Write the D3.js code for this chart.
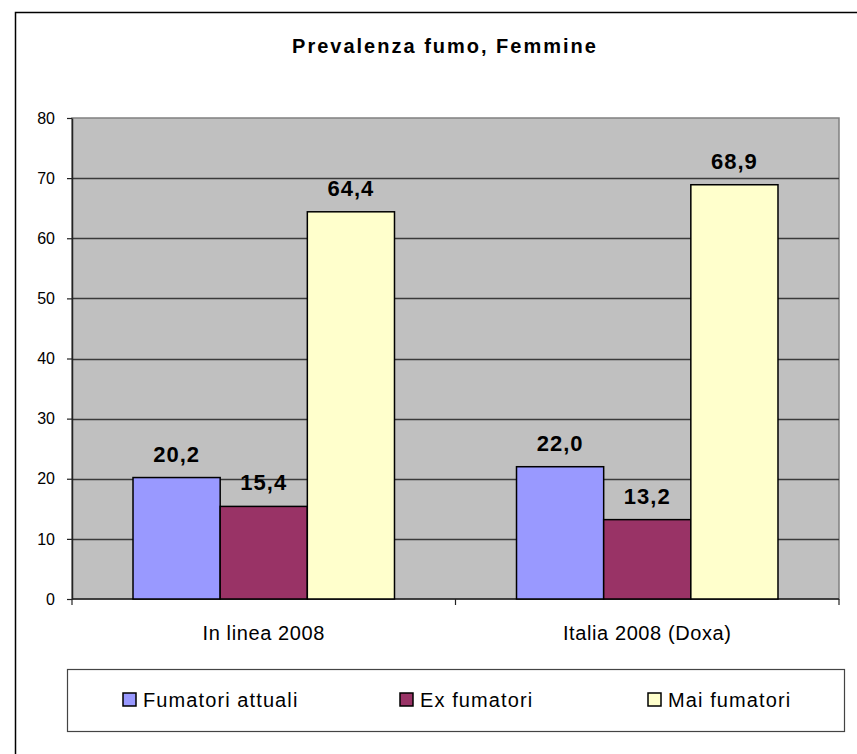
<!DOCTYPE html>
<html>
<head>
<meta charset="utf-8">
<script src="https://cdn.jsdelivr.net/npm/d3@7"></script>
<style>
  body { margin: 0; background: #fff; }
  svg { display: block; font-family: "Liberation Sans", Arial, sans-serif; }
</style>
</head>
<body>
<svg width="857" height="754"></svg>
<script>
// data
const categories = ["In linea 2008", "Italia 2008 (Doxa)"];
const seriesNames = ["Fumatori attuali", "Ex fumatori", "Mai fumatori"];
const fumatoriAttuali = [20.2, 22.0];
const exFumatori = [15.4, 13.2];
const maiFumatori = [64.4, 68.9];
const yTicks = [0, 10, 20, 30, 40, 50, 60, 70, 80];
const colors = ["#9999FF", "#993366", "#FFFFCC"];

const seriesValues = [fumatoriAttuali, exFumatori, maiFumatori];
const rows = categories.map((c, i) => ({
  category: c,
  values: seriesNames.map((s, j) => ({ series: s, value: seriesValues[j][i] }))
}));

const svg = d3.select("svg");

// outer chart border (runs off the right / bottom edge)
svg.append("rect")
  .attr("x", 15.5).attr("y", 12.5)
  .attr("width", 860).attr("height", 760)
  .attr("fill", "#fff")
  .attr("stroke", "#000")
  .attr("stroke-width", 1.5);

const plot = { left: 72, right: 839, top: 118, bottom: 599 };

const x0 = d3.scaleBand()
  .domain(categories)
  .range([plot.left, plot.right]);

const x1 = d3.scaleBand()
  .domain(seriesNames)
  .range([0, x0.bandwidth()])
  .paddingInner(0)
  .paddingOuter(0.7);

const y = d3.scaleLinear()
  .domain([0, 80])
  .range([plot.bottom, plot.top]);

// plot background
svg.append("rect")
  .attr("x", plot.left).attr("y", plot.top)
  .attr("width", plot.right - plot.left).attr("height", plot.bottom - plot.top)
  .attr("fill", "#C0C0C0")
  .attr("stroke", "#808080")
  .attr("stroke-width", 1.5);

// gridlines
svg.append("g")
  .selectAll("line")
  .data(yTicks.filter(t => t > 0 && t < 80))
  .join("line")
  .attr("x1", plot.left).attr("x2", plot.right)
  .attr("y1", d => Math.round(y(d)) + 0.5).attr("y2", d => Math.round(y(d)) + 0.5)
  .attr("stroke", "#3a3a3a")
  .attr("stroke-width", 1.3);

// title
svg.append("text")
  .attr("x", 445).attr("y", 53)
  .attr("text-anchor", "middle")
  .attr("font-size", 20)
  .attr("font-weight", "bold")
  .attr("letter-spacing", 2)
  .text("Prevalenza fumo, Femmine");

// y axis
const yAxis = svg.append("g")
  .attr("transform", `translate(${plot.left},0)`)
  .call(d3.axisLeft(y).tickValues(yTicks).tickSize(5).tickPadding(12).tickSizeOuter(0));
yAxis.select(".domain").attr("stroke", "#222").attr("stroke-width", 1.5);
yAxis.selectAll(".tick line").attr("stroke", "#222").attr("stroke-width", 1.2);
yAxis.selectAll(".tick text")
  .attr("font-size", 16)
  .attr("font-family", "Liberation Sans, Arial, sans-serif")
  .attr("fill", "#000");

// x axis baseline and category ticks
svg.append("line")
  .attr("x1", plot.left).attr("x2", plot.right)
  .attr("y1", plot.bottom).attr("y2", plot.bottom)
  .attr("stroke", "#222").attr("stroke-width", 1.5);

const boundaries = [plot.left].concat(categories.map(c => x0(c) + x0.bandwidth()));
svg.append("g")
  .selectAll("line")
  .data(boundaries)
  .join("line")
  .attr("x1", d => d).attr("x2", d => d)
  .attr("y1", plot.bottom).attr("y2", plot.bottom + 6)
  .attr("stroke", "#222").attr("stroke-width", 1.2);

svg.append("g")
  .selectAll("text")
  .data(categories)
  .join("text")
  .attr("x", d => x0(d) + x0.bandwidth() / 2)
  .attr("y", 640)
  .attr("text-anchor", "middle")
  .attr("font-size", 20)
  .attr("letter-spacing", 0.6)
  .text(d => d);

// bars
const groups = svg.append("g")
  .selectAll("g")
  .data(rows)
  .join("g")
  .attr("transform", d => `translate(${x0(d.category)},0)`);

groups.selectAll("rect")
  .data(d => d.values)
  .join("rect")
  .attr("x", d => x1(d.series))
  .attr("y", d => y(d.value))
  .attr("width", x1.bandwidth())
  .attr("height", d => y(0) - y(d.value))
  .attr("fill", (d, i) => colors[i])
  .attr("stroke", "#000")
  .attr("stroke-width", 1.5);

groups.selectAll("text")
  .data(d => d.values)
  .join("text")
  .attr("x", d => x1(d.series) + x1.bandwidth() / 2)
  .attr("y", d => y(d.value) - 16)
  .attr("text-anchor", "middle")
  .attr("font-size", 22)
  .attr("font-weight", "bold")
  .attr("letter-spacing", 1)
  .text(d => d.value.toFixed(1).replace(".", ","));

// legend
svg.append("rect")
  .attr("x", 67.5).attr("y", 669.5)
  .attr("width", 777).attr("height", 62)
  .attr("fill", "#fff")
  .attr("stroke", "#444")
  .attr("stroke-width", 1.2);

const legendX = [123, 400, 648];
const legend = svg.append("g")
  .selectAll("g")
  .data(seriesNames)
  .join("g")
  .attr("transform", (d, i) => `translate(${legendX[i]},693)`);

legend.append("rect")
  .attr("width", 13).attr("height", 13)
  .attr("fill", (d, i) => colors[i])
  .attr("stroke", "#000")
  .attr("stroke-width", 1.5);

legend.append("text")
  .attr("x", 20).attr("y", 14)
  .attr("font-size", 20)
  .attr("letter-spacing", 1.1)
  .text(d => d);
</script>
</body>
</html>
